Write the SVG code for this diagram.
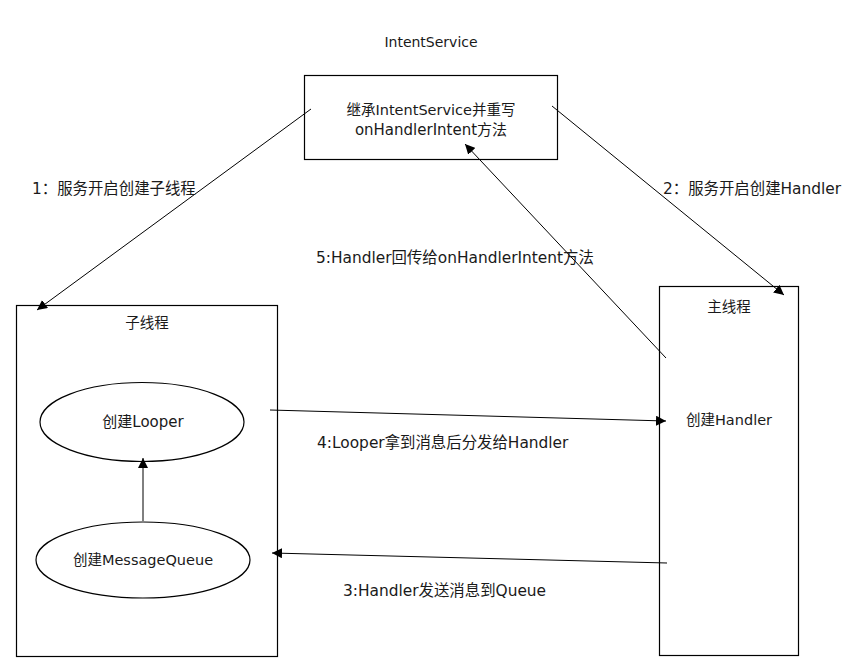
<svg xmlns="http://www.w3.org/2000/svg" width="850" height="661" viewBox="0 0 850 661">
<defs>
<marker id="ah" viewBox="0 0 10 10" refX="10" refY="5" markerWidth="10" markerHeight="10" markerUnits="userSpaceOnUse" orient="auto">
<path d="M0,0 L10,5 L0,10 z" fill="#000"/>
</marker>
</defs>
<style>
text{font-family:"DejaVu Sans","Noto Sans CJK SC",sans-serif;font-size:14.5px;fill:#1a1a1a}
.c{text-anchor:middle}
.lb{font-size:15.4px}
.t{font-size:14px}
.bx{font-size:15px}
.box{fill:#fff;stroke:#000;stroke-width:1.2}
.ln{stroke:#000;stroke-width:1;fill:none;marker-end:url(#ah)}
</style>
<rect width="850" height="661" fill="#fff"/>
<text class="c t" x="431" y="47">IntentService</text>
<g id="intentservice">
<rect class="box" x="304.5" y="75.5" width="253" height="84"/>
<text class="c" x="431" y="115">继承IntentService并重写</text>
<text class="c bx" x="431" y="135">onHandlerIntent方法</text>
</g>
<g id="subthread">
<rect class="box" x="16.5" y="305.5" width="261" height="351"/>
<text class="c" x="147" y="328">子线程</text>
</g>
<g id="looper">
<ellipse class="box" cx="142" cy="422" rx="102" ry="39.5"/>
<text class="c bx" x="143" y="427">创建Looper</text>
</g>
<g id="messagequeue">
<ellipse class="box" cx="143" cy="560" rx="107" ry="38"/>
<text class="c" x="143" y="565">创建MessageQueue</text>
</g>
<g id="mainthread">
<rect class="box" x="659.5" y="286.5" width="139" height="369"/>
<text class="c" x="729" y="312">主线程</text>
<text class="c" x="729" y="425">创建Handler</text>
</g>
<g id="connectors">
<line class="ln" x1="311" y1="109" x2="37" y2="310"/>
<line class="ln" x1="552" y1="106" x2="784" y2="295"/>
<line class="ln" x1="666" y1="358" x2="465" y2="144"/>
<line class="ln" x1="270" y1="410" x2="666" y2="421"/>
<line class="ln" x1="667" y1="563" x2="272" y2="553"/>
<line class="ln" x1="143" y1="521" x2="143" y2="458"/>
</g>
<g id="labels">
<text class="lb" x="32" y="194">1：服务开启创建子线程</text>
<text class="lb" x="663" y="194">2：服务开启创建Handler</text>
<text class="lb" x="316" y="263">5:Handler回传给onHandlerIntent方法</text>
<text class="lb" x="317" y="448">4:Looper拿到消息后分发给Handler</text>
<text class="lb" x="343" y="596">3:Handler发送消息到Queue</text>
</g>
</svg>
